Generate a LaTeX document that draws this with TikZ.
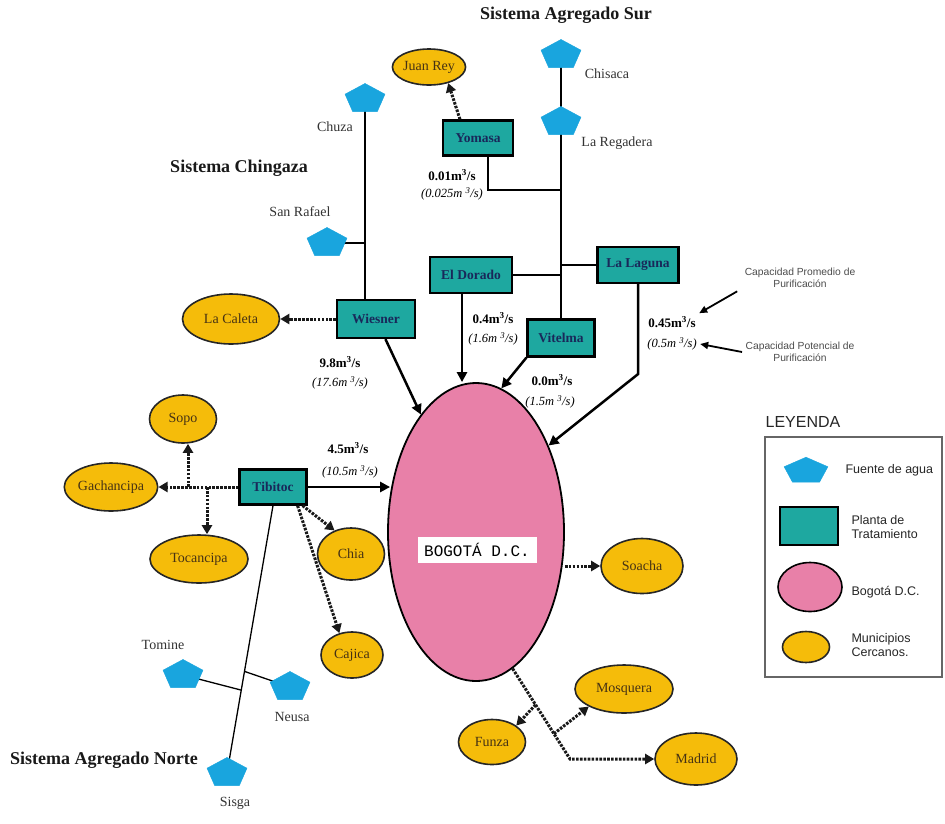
\documentclass[tikz,border=0pt]{standalone}
\usepackage{fontspec}
\setmainfont{Liberation Serif}
\setsansfont{Liberation Sans}
\setmonofont{Liberation Mono}
\usetikzlibrary{shapes.geometric,arrows.meta,calc,backgrounds}
\definecolor{srcblue}{RGB}{25,165,222}
\definecolor{plantteal}{RGB}{30,168,160}
\definecolor{planttext}{RGB}{25,40,90}
\definecolor{bogpink}{RGB}{232,128,168}
\definecolor{munigold}{RGB}{245,188,10}
\definecolor{munitext}{RGB}{70,50,20}
\newcommand{\wsrc}[3][0.74]{\begin{scope}[shift={#3},yscale=#1]\node[src,transform shape] (#2) at (0,0) {};\end{scope}}
\begin{document}
\begin{tikzpicture}[x=1pt,y=-1pt,
  src/.style={regular polygon, regular polygon sides=5, fill=srcblue, draw=srcblue, line width=0.4pt, minimum size=42pt, inner sep=0pt},
  plant/.style={rectangle, fill=plantteal, draw=black, line width=2.2pt, inner sep=0pt, font=\fontsize{13.5}{15}\selectfont\bfseries, text=planttext},
  muni/.style={ellipse, fill=munigold, draw=black!85, line width=1.6pt, inner sep=0pt, font=\fontsize{14}{16}\selectfont, text=munitext},
  lbl/.style={font=\fontsize{14}{16}\selectfont, text=black!80},
  ttl/.style={font=\fontsize{18}{21}\selectfont\bfseries, text=black!90},
  flowq/.style={font=\fontsize{13}{15}\selectfont\bfseries},
  flowp/.style={font=\fontsize{12.5}{14}\selectfont\itshape},
  pipe/.style={line width=1.3pt},
  feed/.style={line width=2.5pt, -{Triangle[length=10pt,width=10pt]}},
  supply/.style={line width=3pt, black!90, dash pattern=on 2.6pt off 1.3pt, -{Triangle[length=9pt,width=10pt]}},
  note/.style={font=\sffamily\fontsize{10.3}{12}\selectfont, text=black!70, align=center},
  noteline/.style={line width=1.8pt, -{Triangle[length=8pt,width=7pt]}},
  legtxt/.style={font=\sffamily\fontsize{12.5}{14.5}\selectfont, text=black!85, align=left, anchor=west}
]
\useasboundingbox (0,0) rectangle (945,823);

% titles
\node[ttl] (tsur) at (566,15) {Sistema Agregado Sur};
\node[ttl] (tching) at (239,168) {Sistema Chingaza};
\node[ttl] (tnorte) at (104,760) {Sistema Agregado Norte};

% water sources
\wsrc{chisaca}{(561,55)}
\wsrc{laregadera}{(561,122)}
\wsrc{chuza}{(365,99)}
\wsrc{sanrafael}{(327,243)}
\wsrc{tomine}{(183,675)}
\wsrc{neusa}{(290,687)}
\wsrc{sisga}{(227,773)}
\node[lbl] (lchisaca) at (607,74) {Chisaca};
\node[lbl] (lregadera) at (617,143) {La Regadera};
\node[lbl] (lchuza) at (335,127) {Chuza};
\node[lbl] (lsanrafael) at (300,212) {San Rafael};
\node[lbl] (ltomine) at (163,645) {Tomine};
\node[lbl] (lneusa) at (292,717) {Neusa};
\node[lbl] (lsisga) at (235,803) {Sisga};

% treatment plants
\node[plant, minimum width=70, minimum height=35] (yomasa) at (478,138) {Yomasa};
\node[plant, minimum width=78, minimum height=38] (wiesner) at (376,319) {Wiesner};
\node[plant, minimum width=82, minimum height=36] (eldorado) at (471,275) {El Dorado};
\node[plant, minimum width=81, minimum height=36] (lalaguna) at (638,265) {La Laguna};
\node[plant, minimum width=67, minimum height=37] (vitelma) at (561,338) {Vitelma};
\node[plant, minimum width=67, minimum height=35] (tibitoc) at (273,487) {Tibitoc};

% Bogota
\node[ellipse, fill=bogpink, draw=black, line width=1.8pt, minimum width=176, minimum height=298, inner sep=0pt] (bogota) at (476,532) {};
\node[fill=white, inner sep=0pt, minimum width=119, minimum height=26, font=\ttfamily\fontsize{16}{18}\selectfont] (lbogota) at (477,550) {BOGOTÁ D.C.};

% municipalities
\node[muni, minimum width=72, minimum height=36] (juanrey) at (429,67) {Juan Rey};
\node[muni, minimum width=97, minimum height=50] (lacaleta) at (231,319) {La Caleta};
\node[muni, minimum width=67, minimum height=48] (sopo) at (183,419) {Sopo};
\node[muni, minimum width=92, minimum height=48] (gachancipa) at (111,487) {Gachancipa};
\node[muni, minimum width=98, minimum height=48] (tocancipa) at (199,559) {Tocancipa};
\node[muni, minimum width=67, minimum height=52] (chia) at (351,554) {Chia};
\node[muni, minimum width=62, minimum height=46] (cajica) at (352,655) {Cajica};
\node[muni, minimum width=82, minimum height=55] (soacha) at (642,566) {Soacha};
\node[muni, minimum width=98, minimum height=48] (mosquera) at (624,689) {Mosquera};
\node[muni, minimum width=67, minimum height=45] (funza) at (492,742) {Funza};
\node[muni, minimum width=82, minimum height=52] (madrid) at (696,759) {Madrid};

% flow labels
\node[flowq] (q01) at (452,175) {0.01m\textsuperscript{3}/s};
\node[flowp] (p01) at (452,194) {(0.025m \textsuperscript{3}/s)};
\node[flowq] (q98) at (340,362) {9.8m\textsuperscript{3}/s};
\node[flowp] (p98) at (340,383) {(17.6m \textsuperscript{3}/s)};
\node[flowq] (q04) at (493,318) {0.4m\textsuperscript{3}/s};
\node[flowp] (p04) at (493,339) {(1.6m \textsuperscript{3}/s)};
\node[flowq] (q00) at (552,380) {0.0m\textsuperscript{3}/s};
\node[flowp] (p00) at (550,402) {(1.5m \textsuperscript{3}/s)};
\node[flowq] (q45) at (672,322) {0.45m\textsuperscript{3}/s};
\node[flowp] (p45) at (672,344) {(0.5m \textsuperscript{3}/s)};
\node[flowq] (q45t) at (348,448) {4.5m\textsuperscript{3}/s};
\node[flowp] (p45t) at (350,472) {(10.5m \textsuperscript{3}/s)};

% capacity notes
\node[note] (cap1) at (800,278) {Capacidad Promedio de\\Purificación};
\node[note] (cap2) at (800,352) {Capacidad Potencial de\\Purificación};
\draw[noteline] ([xshift=-4pt]cap1.south west) -- (q45.north east);
\draw[noteline] (cap2.west) -- (p45.east);

% thin pipes
\coordinate (yj) at (561,190);
\coordinate (tomj) at ($(tibitoc.south)!0.69!(sisga.center)$);
\coordinate (neuj) at ($(tibitoc.south)!0.62!(sisga.center)$);
\begin{scope}[on background layer]
  \fill[white] (0,0) rectangle (945,823);
  \draw[pipe] (chisaca.center) -- (vitelma.north);
  \draw[pipe] ([xshift=10pt]yomasa.south) |- (yj);
  \draw[pipe] (eldorado.east) -- (eldorado.east -| vitelma.north);
  \draw[pipe] (lalaguna.west) -- (lalaguna.west -| vitelma.north);
  \draw[pipe] (chuza.center) -- (chuza.center |- wiesner.north);
  \draw[pipe] (sanrafael.center) -- (sanrafael.center -| chuza.center);
  \draw[pipe] (tibitoc.south) -- (sisga.center);
  \draw[pipe] (tomine.center) -- (tomj);
  \draw[pipe] (neusa.center) -- (neuj);
\end{scope}

% main supply arrows
\coordinate (edo) at ([xshift=-9pt]eldorado.south);
\coordinate (llb) at ([yshift=-90pt]lalaguna.south);
\draw[feed] (wiesner) -- (bogota);
\draw[feed] (edo) -- (edo |- bogota.north);
\draw[feed] (vitelma.south west) -- (bogota.80);
\draw[feed] (lalaguna.south) -- (llb) -- (bogota.50);
\draw[feed] (tibitoc.east) -- ($(tibitoc.east -| bogota.west)+(3,0)$);

% municipal distribution
\draw[supply] ([xshift=-18pt]yomasa.north) -- (juanrey.-40);
\draw[supply] (wiesner.west) -- (lacaleta.east);
\coordinate (sj) at (188,487);
\coordinate (tj) at (207,487);
\draw[supply] (tibitoc.west) -- (gachancipa.east);
\draw[supply] (sj) -- (sj |- sopo.south);
\draw[supply] (tj) -- (tj |- tocancipa.north);
\draw[supply] ([xshift=-5pt]tibitoc.south east) -- (chia.125);
\draw[supply] ([xshift=-10pt]tibitoc.south east) -- (cajica.120);
\draw[supply] (soacha.west -| bogota.east) -- (soacha.west);
\coordinate (mc) at (570,759);
\coordinate (fb) at ($(bogota.-75)!0.4!(mc)$);
\coordinate (mb) at ($(bogota.-75)!0.72!(mc)$);
\draw[supply] (bogota.-75) -- (mc) -- (madrid.west);
\draw[supply] (fb) -- (funza.north east);
\draw[supply] (mb) -- (mosquera.south west);

% legend
\node[font=\sffamily\fontsize{16}{18}\selectfont, text=black!85] (leyenda) at (803,422) {LEYENDA};
\node[draw=black!60, line width=1.2pt, minimum width=177, minimum height=240, inner sep=0pt] (legbox) at (853.5,557) {};
\begin{scope}[shift={(806,471)},yscale=0.6]
  \node[src, minimum size=46pt, transform shape] (lsrc) at (0,0) {};
\end{scope}
\node[plant, minimum width=58, minimum height=38] (lplant) at (809,526) {};
\node[ellipse, fill=bogpink, draw=black, line width=1.6pt, minimum width=64, minimum height=49, inner sep=0pt] (lbog) at (810,587) {};
\node[muni, minimum width=47, minimum height=31] (lmuni) at (806,647) {};
\node[legtxt] (t1) at (842,470) {Fuente de agua};
\node[legtxt] (t2) at (848,527) {Planta de\\Tratamiento};
\node[legtxt] (t3) at (848,592) {Bogotá D.C.};
\node[legtxt] (t4) at (848,645) {Municipios\\Cercanos.};
\end{tikzpicture}
\end{document}
